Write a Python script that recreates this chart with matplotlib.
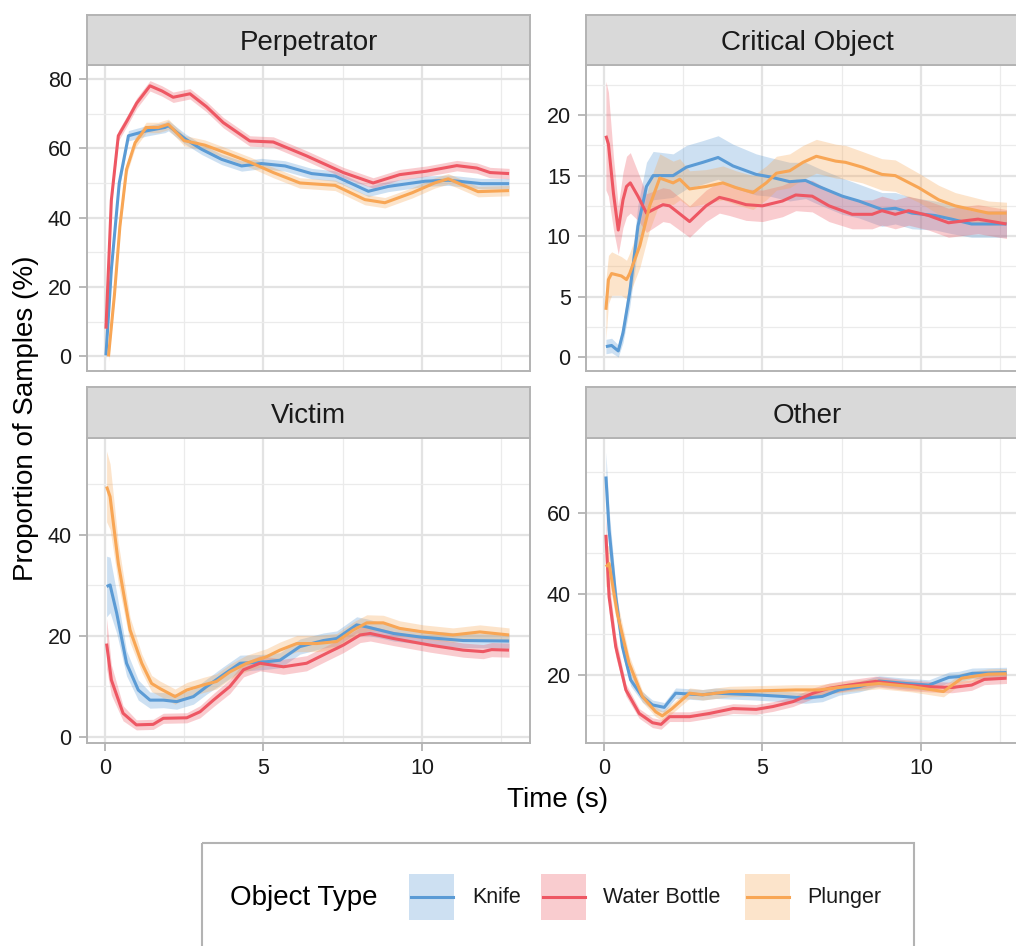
import matplotlib
matplotlib.use("Agg")
import matplotlib.pyplot as plt
from matplotlib.patches import Rectangle
from matplotlib.ticker import MultipleLocator, FuncFormatter
import numpy as np

plt.rcParams['font.family'] = ['Liberation Sans', 'DejaVu Sans']

panels = ["Perpetrator", "Critical Object", "Victim", "Other"]
object_types = ["Knife", "Water Bottle", "Plunger"]
colors = {"Knife": "#5B9BD5", "Water Bottle": "#EE5763", "Plunger": "#F8A655"}

# ---------------- Perpetrator ----------------
perp_knife_t = [0.03, 0.2, 0.45, 0.74, 1.3, 1.89, 2.0, 2.53, 3.05, 3.68, 4.31, 4.94, 5.68, 6.52, 7.26, 8.31, 8.94, 10.1, 10.83, 11.88, 12.75]
perp_knife_y = [0.3, 25, 50, 63.6, 65, 66, 66.5, 62.7, 59.7, 56.8, 54.9, 55.6, 54.9, 52.7, 52, 47.6, 49, 50.5, 50.8, 49.8, 49.8]
perp_knife_se = [1.5] * 21

perp_water_t = [0.03, 0.2, 0.42, 0.7, 1.0, 1.42, 1.8, 2.15, 2.68, 3.2, 3.73, 4.57, 5.31, 6.36, 7.52, 8.46, 9.3, 10.15, 11.1, 11.73, 12.15, 12.75]
perp_water_y = [8, 45, 63.6, 68, 73, 78, 76.5, 74.7, 75.7, 72, 67.4, 62.1, 61.8, 57.8, 53, 50, 52.4, 53.4, 55, 54.3, 53, 52.7]
perp_water_se = [1.5] * 22

perp_plunger_t = [0.11, 0.3, 0.47, 0.68, 0.95, 1.3, 1.68, 2.0, 2.5, 3.15, 3.89, 4.57, 5.31, 6.15, 7.26, 8.2, 8.83, 9.7, 10.4, 10.83, 11.77, 12.75]
perp_plunger_y = [0, 18, 37.5, 53.9, 61.6, 66, 66, 66.9, 62.2, 60.9, 58.4, 56, 53, 50, 49.3, 45.2, 44.3, 47.2, 50, 51.2, 47.5, 47.8]
perp_plunger_se = [1.5] * 22

# ---------------- Critical Object ----------------
crit_knife_t = [0.06, 0.24, 0.45, 0.6, 0.81, 1.07, 1.34, 1.55, 2.18, 2.6, 3.12, 3.6, 4.07, 4.8, 5.23, 5.86, 6.36, 6.78, 7.52, 8.04, 8.77, 9.19, 9.72, 10.45, 10.97, 11.6, 12.7]
crit_knife_y = [0.86, 0.95, 0.5, 2.0, 5.3, 10.8, 14.1, 15.0, 15.0, 15.7, 16.1, 16.5, 15.8, 15.1, 14.9, 14.5, 14.6, 14.1, 13.3, 12.9, 12.2, 12.3, 11.9, 11.7, 11.4, 11.0, 11.0]
crit_knife_se = [0.6, 0.6, 0.5, 0.8, 1.2, 1.8, 2.0, 2.0, 1.8, 1.8, 1.8, 1.8, 1.8, 1.7, 1.6, 1.6, 1.5, 1.5, 1.5, 1.4, 1.4, 1.3, 1.3, 1.2, 1.2, 1.1, 1.1]

crit_water_t = [0.06, 0.14, 0.3, 0.45, 0.6, 0.71, 0.83, 1.07, 1.34, 1.86, 2.07, 2.7, 3.22, 3.64, 3.96, 4.48, 5.0, 5.63, 6.05, 6.57, 7.1, 7.83, 8.46, 8.77, 9.19, 9.61, 10.24, 10.87, 11.8, 12.7]
crit_water_y = [18.3, 17.6, 13.5, 10.5, 13.0, 14.1, 14.4, 13.3, 11.9, 12.6, 12.5, 11.2, 12.5, 13.2, 13.0, 12.6, 12.5, 12.9, 13.4, 13.3, 12.5, 11.8, 11.8, 12.1, 11.8, 12.1, 11.7, 11.1, 11.4, 11.0]
crit_water_se = [4.5, 4.3, 3.0, 2.0, 2.3, 2.5, 2.5, 2.0, 1.6, 1.4, 1.4, 1.3, 1.3, 1.3, 1.3, 1.3, 1.3, 1.3, 1.3, 1.3, 1.3, 1.2, 1.2, 1.2, 1.2, 1.2, 1.2, 1.2, 1.2, 1.2]

crit_plunger_t = [0.06, 0.14, 0.24, 0.55, 0.71, 0.81, 1.13, 1.44, 1.76, 2.18, 2.39, 2.7, 3.22, 3.75, 4.17, 4.7, 5.12, 5.44, 5.86, 6.28, 6.7, 7.31, 7.62, 8.15, 8.77, 9.19, 9.93, 10.56, 11.08, 12.13, 12.7]
crit_plunger_y = [3.9, 6.4, 6.9, 6.7, 6.4, 6.9, 9.2, 12.5, 14.8, 14.4, 14.7, 13.9, 14.1, 14.4, 14.0, 13.6, 14.4, 15.2, 15.4, 16.1, 16.6, 16.2, 16.1, 15.7, 15.1, 15.0, 14.0, 13.0, 12.5, 11.9, 11.9]
crit_plunger_se = [2.5, 2.0, 1.8, 1.6, 1.6, 1.7, 1.8, 2.0, 2.0, 1.8, 1.7, 1.5, 1.4, 1.4, 1.4, 1.4, 1.4, 1.4, 1.4, 1.4, 1.4, 1.4, 1.4, 1.3, 1.3, 1.3, 1.2, 1.2, 1.1, 1.0, 0.9]

# ---------------- Victim ----------------
vict_knife_t = [0.05, 0.16, 0.37, 0.68, 1.05, 1.42, 1.84, 2.26, 2.79, 3.21, 3.73, 4.26, 5.1, 5.52, 6.15, 6.89, 7.31, 7.94, 8.26, 9.1, 9.94, 11.3, 12.75]
vict_knife_y = [29.8, 30.1, 24.5, 14.6, 9.3, 7.3, 7.3, 7.0, 8.0, 10.0, 12.3, 14.6, 14.9, 15.2, 17.9, 19.1, 19.5, 22.2, 21.8, 20.5, 19.8, 19.1, 19.0]
vict_knife_se = [6, 5.5, 4, 2.5, 2, 1.6, 1.5, 1.5, 1.5, 1.5, 1.6, 1.6, 1.5, 1.5, 1.5, 1.5, 1.5, 1.6, 1.6, 1.5, 1.4, 1.4, 1.4]

vict_water_t = [0.05, 0.2, 0.57, 0.99, 1.52, 1.84, 2.58, 3.0, 3.42, 3.94, 4.37, 4.89, 5.63, 6.36, 7.0, 7.52, 8.05, 8.37, 9.1, 10.25, 11.3, 11.93, 12.2, 12.75]
vict_water_y = [18.5, 11.3, 4.7, 2.4, 2.5, 3.7, 3.8, 5.0, 7.3, 10.0, 13.3, 14.6, 13.9, 14.6, 16.6, 18.2, 20.2, 20.5, 19.5, 18.2, 17.2, 16.9, 17.3, 17.2]
vict_water_se = [5, 3, 1.5, 1.0, 1.0, 1.0, 1.0, 1.2, 1.3, 1.4, 1.4, 1.5, 1.5, 1.5, 1.5, 1.5, 1.5, 1.5, 1.4, 1.4, 1.4, 1.4, 1.4, 1.4]

vict_plunger_t = [0.05, 0.16, 0.42, 0.79, 1.16, 1.47, 1.73, 2.21, 2.58, 3.1, 3.52, 3.94, 4.47, 5.1, 5.52, 6.05, 6.68, 7.31, 7.84, 8.26, 8.78, 9.3, 10.04, 10.98, 11.83, 12.75]
vict_plunger_y = [49.6, 47.6, 34.4, 21.2, 14.6, 10.6, 9.6, 8.0, 9.3, 10.3, 11.0, 12.9, 14.6, 15.9, 17.2, 18.5, 18.5, 18.9, 21.2, 22.6, 22.6, 21.5, 20.8, 20.2, 20.8, 20.2]
vict_plunger_se = [7, 6.5, 4, 2.5, 1.8, 1.6, 1.5, 1.5, 1.5, 1.5, 1.5, 1.5, 1.6, 1.6, 1.6, 1.6, 1.6, 1.6, 1.6, 1.6, 1.5, 1.5, 1.4, 1.4, 1.4, 1.4]

# ---------------- Other ----------------
oth_knife_t = [0.06, 0.16, 0.37, 0.58, 0.84, 1.21, 1.53, 1.9, 2.26, 3.1, 3.52, 4.78, 5.63, 6.36, 6.89, 7.42, 8.05, 8.68, 9.52, 10.25, 10.88, 11.2, 11.62, 12.7]
oth_knife_y = [69.0, 55.8, 39.3, 27.0, 18.8, 14.6, 12.6, 12.0, 15.5, 15.1, 15.5, 15.1, 14.7, 14.3, 14.7, 16.3, 17.1, 18.5, 17.9, 17.5, 19.4, 19.6, 20.4, 20.6]
oth_knife_se = [6, 5, 3, 2, 1.5, 1.3, 1.2, 1.2, 1.3, 1.3, 1.3, 1.3, 1.3, 1.3, 1.3, 1.3, 1.3, 1.3, 1.3, 1.3, 1.3, 1.3, 1.3, 1.3]

oth_water_t = [0.06, 0.16, 0.37, 0.69, 1.11, 1.53, 1.8, 2.07, 2.7, 3.33, 4.07, 4.8, 5.33, 5.96, 6.6, 7.1, 7.73, 8.57, 9.52, 10.25, 10.98, 11.6, 12.0, 12.7]
oth_water_y = [54.6, 39.3, 27.0, 16.3, 10.5, 8.2, 7.8, 9.7, 9.7, 10.5, 11.7, 11.5, 12.2, 13.4, 15.5, 16.7, 17.5, 18.4, 17.5, 17.1, 16.9, 17.5, 18.9, 19.2]
oth_water_se = [5, 4, 2.5, 1.5, 1.2, 1.2, 1.2, 1.2, 1.2, 1.2, 1.2, 1.2, 1.2, 1.2, 1.3, 1.3, 1.3, 1.3, 1.3, 1.3, 1.3, 1.3, 1.3, 1.3]

oth_plunger_t = [0.06, 0.16, 0.42, 0.79, 1.21, 1.63, 1.84, 2.15, 2.7, 3.12, 3.96, 5.0, 6.05, 6.78, 7.62, 8.68, 9.72, 10.71, 11.29, 12.13, 12.7]
oth_plunger_y = [46.7, 47.5, 35.2, 22.9, 14.7, 10.9, 9.9, 11.7, 15.5, 15.1, 15.9, 16.1, 16.3, 16.3, 17.1, 17.9, 17.1, 15.9, 19.2, 20.2, 20.3]
oth_plunger_se = [5, 4.5, 3, 2, 1.4, 1.2, 1.2, 1.2, 1.3, 1.3, 1.3, 1.3, 1.3, 1.3, 1.3, 1.3, 1.3, 1.3, 1.3, 1.3, 1.3]

series = {
    "Perpetrator": [(perp_knife_t, perp_knife_y, perp_knife_se),
                    (perp_water_t, perp_water_y, perp_water_se),
                    (perp_plunger_t, perp_plunger_y, perp_plunger_se)],
    "Critical Object": [(crit_knife_t, crit_knife_y, crit_knife_se),
                        (crit_water_t, crit_water_y, crit_water_se),
                        (crit_plunger_t, crit_plunger_y, crit_plunger_se)],
    "Victim": [(vict_knife_t, vict_knife_y, vict_knife_se),
               (vict_water_t, vict_water_y, vict_water_se),
               (vict_plunger_t, vict_plunger_y, vict_plunger_se)],
    "Other": [(oth_knife_t, oth_knife_y, oth_knife_se),
              (oth_water_t, oth_water_y, oth_water_se),
              (oth_plunger_t, oth_plunger_y, oth_plunger_se)],
}

# layout (pixel boxes)
W, H = 1016, 946
panel_px = {"Perpetrator": (87, 65, 530, 371), "Critical Object": (586, 65, 1029, 371),
            "Victim": (87, 438, 530, 743), "Other": (586, 438, 1029, 743)}
strip_px = {"Perpetrator": (87, 15, 530, 65), "Critical Object": (586, 15, 1029, 65),
            "Victim": (87, 387, 530, 438), "Other": (586, 387, 1029, 438)}
ylims = {"Perpetrator": (-4.2, 84.0), "Critical Object": (-1.16, 24.15),
         "Victim": (-1.19, 59.2), "Other": (3.2, 78.5)}
ymajor = {"Perpetrator": 20, "Critical Object": 5, "Victim": 20, "Other": 20}
xlim = (-0.568, 13.41)

BORDER = "#B3B3B3"
TXT = "#1A1A1A"


def box(x0, y0, x1, y1):
    return [x0 / W, 1 - y1 / H, (x1 - x0) / W, (y1 - y0) / H]


fig = plt.figure(figsize=(W / 100, H / 100), dpi=100)
fmt = FuncFormatter(lambda v, _: f"{v:g}")

for p in panels:
    ax = fig.add_axes(box(*panel_px[p]))
    ax.set_xlim(*xlim)
    ax.set_ylim(*ylims[p])
    ax.xaxis.set_major_locator(MultipleLocator(5))
    ax.xaxis.set_minor_locator(MultipleLocator(2.5))
    ax.yaxis.set_major_locator(MultipleLocator(ymajor[p]))
    ax.yaxis.set_minor_locator(MultipleLocator(ymajor[p] / 2))
    ax.grid(which="major", color="#E3E3E3", lw=1.6)
    ax.grid(which="minor", color="#EBEBEB", lw=0.9)
    ax.set_axisbelow(True)
    for s in ax.spines.values():
        s.set_color(BORDER)
        s.set_linewidth(1.4)
    ax.tick_params(which="minor", length=0)
    ax.tick_params(which="major", color=BORDER, length=6, width=1.3,
                   labelsize=15.5, labelcolor=TXT, pad=5)
    if p in ("Perpetrator", "Critical Object"):
        ax.tick_params(axis="x", which="both", bottom=False, labelbottom=False)
    ax.yaxis.set_major_formatter(fmt)
    ax.xaxis.set_major_formatter(fmt)
    for (t, y, se), obj in zip(series[p], object_types):
        t = np.asarray(t); y = np.asarray(y); se = np.asarray(se)
        ax.fill_between(t, y - se, y + se, color=colors[obj], alpha=0.3, lw=0, zorder=2)
    for (t, y, se), obj in zip(series[p], object_types):
        ax.plot(t, y, color=colors[obj], lw=2.2, zorder=3,
                solid_joinstyle="round", solid_capstyle="butt")

    sax = fig.add_axes(box(*strip_px[p]))
    sax.set_facecolor("#D9D9D9")
    sax.set_xticks([]); sax.set_yticks([])
    for s in sax.spines.values():
        s.set_color(BORDER)
        s.set_linewidth(1.4)
    sax.text(0.5, 0.30, p, ha="center", va="baseline", fontsize=20, color=TXT,
             transform=sax.transAxes)

# overlay for titles and legend (pixel coordinates)
ov = fig.add_axes([0, 0, 1, 1], zorder=10)
ov.set_xlim(0, W); ov.set_ylim(H, 0); ov.axis("off")
ov.patch.set_alpha(0)

ov.text(558, 807, "Time (s)", ha="center", va="baseline", fontsize=20, color="black")
ov.text(26, 418, "Proportion of Samples (%)", ha="center", va="center", rotation=90,
        fontsize=20, color="black")

ov.add_patch(Rectangle((201.5, 843), 712, 130, fill=False, ec="#B3B3B3", lw=1.5))
ov.text(230, 905, "Object Type", ha="left", va="baseline", fontsize=20, color="black")
key_x = {"Knife": 409, "Water Bottle": 541, "Plunger": 745}
label_x = {"Knife": 472, "Water Bottle": 603, "Plunger": 807}
for obj in object_types:
    kx = key_x[obj]
    ov.add_patch(Rectangle((kx, 874), 45, 46, color=colors[obj], alpha=0.3, lw=0))
    ov.plot([kx + 1.5, kx + 43.5], [897, 897], color=colors[obj], lw=2.2)
    ov.text(label_x[obj], 903, obj, ha="left", va="baseline", fontsize=15.5, color=TXT)

fig.savefig("out.png", dpi=100)
